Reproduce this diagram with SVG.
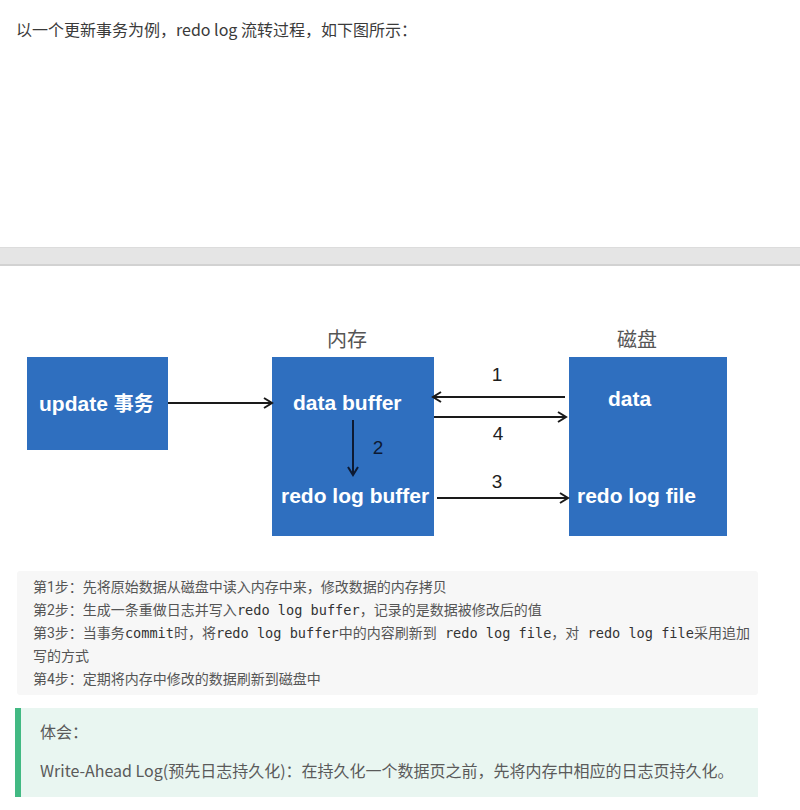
<svg xmlns="http://www.w3.org/2000/svg" width="800" height="810" viewBox="0 0 800 810">
<defs>
<marker id="ah" markerWidth="12" markerHeight="12" refX="10" refY="6" orient="auto" markerUnits="userSpaceOnUse">
<path d="M2,1 L10,6 L2,11" fill="none" stroke="#1a1a1a" stroke-width="2"/>
</marker>
<marker id="ah2" markerWidth="12" markerHeight="12" refX="10" refY="6" orient="auto" markerUnits="userSpaceOnUse">
<path d="M2,1 L10,6 L2,11" fill="none" stroke="#0d1a33" stroke-width="2"/>
</marker>
</defs>
<style>
.cjk{font-family:"Noto Sans CJK SC","Noto Sans",sans-serif;}
.title{font-size:16px;fill:#3a3a3a;}
.box{fill:#2f6fbf;}
.bt{font-family:"Liberation Sans",Arial,"Noto Sans CJK SC",sans-serif;font-weight:bold;font-size:21px;fill:#ffffff;}
.hdr{font-family:"Noto Sans CJK SC",serif;font-size:20px;fill:#555555;}
.num{font-family:"Liberation Sans",Arial,sans-serif;font-size:19px;fill:#1e1e1e;text-anchor:middle;}
.ln{stroke:#1a1a1a;stroke-width:2;fill:none;}
.st{font-family:Roboto,"Noto Sans CJK SC",sans-serif;font-size:14px;fill:#555555;}
.mono{font-family:"DejaVu Sans Mono","Liberation Mono",monospace;font-size:13.6px;fill:#333333;}
.tip{font-family:"Noto Sans CJK SC",sans-serif;font-size:16px;fill:#5a5a5a;}
</style>
<rect width="800" height="810" fill="#ffffff"/>
<text class="cjk title" x="16" y="36">以一个更新事务为例，redo log 流转过程，如下图所示：</text>

<rect x="0" y="247" width="800" height="19" fill="#e5e5e5"/>
<rect x="0" y="247" width="800" height="1" fill="#dcdcdc"/>
<rect x="0" y="264" width="800" height="2" fill="#d2d2d2"/>

<text class="hdr" x="347" y="347" text-anchor="middle">内存</text>
<text class="hdr" x="637" y="347" text-anchor="middle">磁盘</text>

<g id="update">
<rect class="box" x="27" y="357" width="141" height="93"/>
<text class="bt" x="39" y="411">update <tspan font-family="Noto Sans CJK SC,sans-serif" font-size="20px">事务</tspan></text>
</g>
<g id="memory">
<rect class="box" x="272" y="357" width="162" height="179"/>
<text class="bt" x="293" y="410">data buffer</text>
<text class="bt" x="281" y="503">redo log buffer</text>
</g>
<g id="disk">
<rect class="box" x="569" y="357" width="158" height="179"/>
<text class="bt" x="608" y="406">data</text>
<text class="bt" x="577" y="503">redo log file</text>
</g>

<g id="connectors">
<line class="ln" x1="168" y1="403" x2="272" y2="403" marker-end="url(#ah)"/>
<line class="ln" x1="565" y1="397" x2="433" y2="397" marker-end="url(#ah)"/>
<line class="ln" x1="434" y1="417" x2="566" y2="417" marker-end="url(#ah)"/>
<line class="ln" x1="437" y1="498" x2="568" y2="498" marker-end="url(#ah)"/>
<line x1="353" y1="420" x2="353" y2="475" stroke="#0d1a33" stroke-width="2" marker-end="url(#ah2)"/>
<text class="num" x="497" y="381" fill="#2a1414">1</text>
<text class="num" x="498" y="440">4</text>
<text class="num" x="497" y="488">3</text>
<text class="num" x="378" y="454" style="fill:#0d1a33">2</text>
</g>

<rect x="17" y="571" width="741" height="124" rx="3" fill="#f7f7f7"/>
<text class="st" x="33" y="592">第1步：先将原始数据从磁盘中读入内存中来，修改数据的内存拷贝</text>
<text class="st" x="33" y="615">第2步：生成一条重做日志并写入<tspan class="mono">redo log buffer</tspan>，记录的是数据被修改后的值</text>
<text class="st" x="33" y="638">第3步：当事务<tspan class="mono">commit</tspan>时，将<tspan class="mono">redo log buffer</tspan>中的内容刷新到<tspan class="mono"> redo log file</tspan>，对<tspan class="mono"> redo log file</tspan>采用追加</text>
<text class="st" x="33" y="661">写的方式</text>
<text class="st" x="33" y="684">第4步：定期将内存中修改的数据刷新到磁盘中</text>

<rect x="15" y="708" width="743" height="89" fill="#e9f6f1"/>
<rect x="15" y="708" width="6" height="89" fill="#42b983"/>
<text class="tip" x="40" y="738">体会：</text>
<text class="tip" x="40" y="777">Write-Ahead Log(预先日志持久化)：在持久化一个数据页之前，先将内存中相应的日志页持久化。</text>
</svg>
